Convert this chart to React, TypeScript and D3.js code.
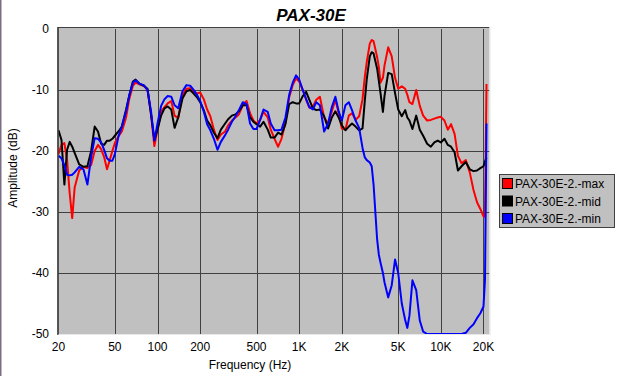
import React from "react";
import * as d3 from "d3";

const title = "PAX-30E";
const xTickValues = [20, 50, 100, 200, 500, 1000, 2000, 5000, 10000, 20000];
const xTickLabels = ["20", "50", "100", "200", "500", "1K", "2K", "5K", "10K", "20K"];
const yTickValues = [0, -10, -20, -30, -40, -50];
const seriesNames = ["PAX-30E-2.-max", "PAX-30E-2.-mid", "PAX-30E-2.-min"];
const seriesColors = ["#ff0000", "#000000", "#0000ff"];

const freqs = [
  20, 21, 22, 23, 24, 25, 26, 28, 30, 32, 34, 36, 38, 40, 42, 44, 46, 48, 50, 53, 56, 60, 63, 67, 70, 75, 80, 85, 90, 95,
  100, 106, 112, 118, 125, 132, 140, 150, 160, 170, 180, 190, 200, 212, 224, 236, 250, 265, 280, 300, 315, 335, 355, 375,
  400, 425, 450, 475, 500, 530, 560, 600, 630, 670, 710, 750, 800, 850, 900, 950, 1000, 1060, 1120, 1180, 1250, 1320,
  1400, 1500, 1600, 1700, 1800, 1900, 2000, 2120, 2240, 2360, 2500, 2650, 2800, 2900, 3000, 3150, 3250, 3350, 3550, 3650,
  3750, 3900, 4000, 4250, 4500, 4750, 5000, 5300, 5600, 5800, 6000, 6300, 6700, 7100, 7500, 8000, 8500, 9000, 9500, 10000,
  10600, 11200, 11800, 12500, 13200, 14000, 15000, 16000, 17000, 18000, 19000, 20000, 20500, 21000,
];

const maxDb = [
  -20.5, -19, -18.7, -21.5, -27, -31, -26, -23.2, -22.6, -22.8, -22.3, -20, -19, -19.7, -21, -23, -21.5, -20, -18.7, -17.6, -16.8, -14.5, -11.6, -9.3, -8.8, -9.1, -9.3, -10, -14, -19.2,
  -16.5, -13.5, -12.8, -12.2, -11.8, -14.2, -14.6, -10.8, -9.8, -9.7, -10.2, -10.6, -10.4, -11.5, -13.2, -14.3, -16.5, -18.2, -17.3, -16.8, -15.8, -15, -14.5, -14,
  -12.5, -11.8, -13.8, -15, -15.5, -14.9, -13.6, -14.5, -16.5, -18, -19.3, -18, -15.3, -11.2, -9.2, -8.1, -8.6, -10, -11.6, -12.9, -12.7, -11.6,
  -11.1, -14.5, -15.5, -13.5, -11.6, -13.8, -16.3, -16.5, -14.2, -13.8, -14.9, -14.3, -11.5, -8, -5.4, -2.4, -1.8, -2, -4.6, -6.2,
  -8.8, -8, -6, -3, -4.5, -8, -9.8, -9.4, -9.8, -10.8, -12, -12.3, -10, -12.6, -14.2, -15, -14.9, -14.7, -14.5, -14.4,
  -15, -16.5, -15.6, -17.2, -20.8, -22, -21.5, -23.5, -26.4, -28.4, -29.5, -30.7, -30.8, -9,
];

const midDb = [
  -16.6, -18.2, -25.5, -19.8, -18.5, -19.3, -20.3, -22.2, -22.6, -22.5, -20, -16, -16.8, -18.8, -19, -18.3, -18.3, -18, -17.5, -16.8, -16, -13.2, -11, -8.6, -8.3, -9, -9.3, -9.8, -14, -18.2,
  -16.5, -14.2, -13, -12.7, -13.2, -16.2, -14.5, -11.4, -10.2, -10, -10.6, -11.2, -12, -13.3, -15, -15.8, -17, -17.9, -16.5, -15.5, -14.8, -14.2, -14, -13.5,
  -12.5, -12.5, -14.5, -15.2, -15.6, -16, -15.2, -16.5, -17.8, -17.8, -17, -17.3, -15.6, -12.3, -12, -12.2, -12.2, -11, -10.3, -11.6, -13, -13.3,
  -13.2, -14.3, -16.3, -14.5, -13.5, -14.5, -15.8, -16.6, -16, -15.5, -16, -16.6, -16.3, -12, -8.2, -4.5, -3.8, -4, -6.5, -8.5,
  -10.5, -13.6, -11, -7.2, -7.4, -10.5, -13.2, -14.3, -13.3, -14.5, -15, -16.4, -14.2, -16.5, -17.5, -18.8, -19.3, -18.6, -18.3, -18.6,
  -18, -19, -19.3, -20.2, -23.2, -22.5, -21.8, -23, -23.3, -23.2, -22.8, -22.5, -21.7, -21.1,
];

const minDb = [
  -20.8, -21.2, -22.3, -23.9, -24, -23.9, -23.5, -22.6, -23, -25.5, -21, -17.9, -18, -18.6, -19.8, -21.2, -21.6, -21.6, -20.5, -17.6, -16, -13.5, -11, -8.8, -8.4, -9, -9.2, -10, -13.5, -18.3,
  -15.5, -12.6, -11.5, -11, -11.1, -12.5, -13, -10.2, -9.2, -9.3, -10, -10.8, -11.8, -13.5, -15.6, -16.6, -18, -19.8, -18.5, -17.4, -16.5, -15.2, -14.3, -13.3,
  -12, -12.3, -15.5, -16.4, -16.4, -14.9, -13.2, -13.6, -15.5, -16.6, -16.6, -16.5, -14.5, -10.8, -8.8, -7.6, -8.3, -10, -11.5, -12.8, -13.2, -12,
  -12.5, -16.8, -15.5, -12.8, -11.1, -13.5, -15, -12.5, -12, -13.3, -15, -16.2, -19.5, -21, -21.5, -21.9, -22.5, -25.5, -34.5, -37,
  -38.3, -40, -41.5, -44, -42, -37.8, -40, -45, -47.7, -49, -47, -41.2, -42.8, -47.8, -49.6, -50, -50, -50, -50, -50,
  -50, -50, -50, -50, -50, -50, -49.8, -49, -48.4, -47.4, -46.6, -45.5, -41, -15.5,
];

const series = [maxDb, midDb, minDb];

const W = 621;
const H = 376;
const plotLeft = 58.5;
const plotRight = 489.5;
const plotTop = 29;
const plotBottom = 334;

export default function App() {
  const x = d3.scaleLog().domain([20, 22050]).range([plotLeft, plotRight]);
  const y = d3.scaleLinear().domain([-50, 0]).range([plotBottom, plotTop]);
  const line = d3
    .line<[number, number]>()
    .x((d) => x(d[0]))
    .y((d) => y(d[1]));
  const font = "Arial, 'Liberation Sans', sans-serif";

  return (
    <svg
      width={W}
      height={H}
      style={{ position: "absolute", left: 0, top: 0, background: "#ffffff" }}
      fontFamily={font}
    >
      <rect x={0} y={0} width={W} height={H} fill="#ffffff" />
      <line x1={0.75} y1={0} x2={0.75} y2={H} stroke="#7a6f86" strokeWidth={1.5} />
      <defs>
        <clipPath id="plotClip">
          <rect x={plotLeft} y={plotTop - 2} width={plotRight - plotLeft} height={plotBottom - plotTop + 2} />
        </clipPath>
      </defs>
      <text x={311} y={21} textAnchor="middle" fontSize={17} fontWeight="bold" fontStyle="italic" fill="#000">
        {title}
      </text>
      <rect x={plotLeft} y={plotTop - 1} width={plotRight - plotLeft} height={plotBottom - plotTop + 1} fill="#c0c0c0" />
      {xTickValues.slice(1).map((v) => (
        <line key={"vx" + v} x1={Math.round(x(v)) + 0.5} x2={Math.round(x(v)) + 0.5} y1={plotTop} y2={plotBottom} stroke="#404040" strokeWidth={1} />
      ))}
      {yTickValues.slice(1, -1).map((v) => (
        <line key={"hy" + v} x1={plotLeft} x2={plotRight} y1={Math.round(y(v)) + 0.5} y2={Math.round(y(v)) + 0.5} stroke="#404040" strokeWidth={1} />
      ))}
      <g clipPath="url(#plotClip)">
        {series.map((s, i) => (
          <path
            key={seriesNames[i]}
            d={line(freqs.map((f, j) => [f, s[j]] as [number, number])) || ""}
            fill="none"
            stroke={seriesColors[i]}
            strokeWidth={2}
            strokeLinejoin="round"
          />
        ))}
      </g>
      {/* sunken border */}
      <line x1={plotLeft} x2={plotRight} y1={plotTop - 1.5} y2={plotTop - 1.5} stroke="#404040" strokeWidth={1} />
      <line x1={plotLeft - 0.5} x2={plotLeft - 0.5} y1={plotTop - 2} y2={plotBottom + 1} stroke="#202020" strokeWidth={1.5} />
      <line x1={plotRight + 0.5} x2={plotRight + 0.5} y1={plotTop - 2} y2={plotBottom + 1} stroke="#e8e8e8" strokeWidth={1} />
      <line x1={plotLeft} x2={plotRight + 1} y1={plotBottom + 0.5} y2={plotBottom + 0.5} stroke="#e8e8e8" strokeWidth={1} />
      {xTickValues.map((v, i) => (
        <text key={"xt" + v} x={x(v)} y={351} textAnchor="middle" fontSize={12} fill="#000">
          {xTickLabels[i]}
        </text>
      ))}
      {yTickValues.map((v) => (
        <text key={"yt" + v} x={49} y={y(v) + 4} textAnchor="end" fontSize={12} fill="#000">
          {v}
        </text>
      ))}
      <text x={250} y={369} textAnchor="middle" fontSize={12} fill="#000">
        Frequency (Hz)
      </text>
      <text transform="translate(17,168) rotate(-90)" textAnchor="middle" fontSize={12} fill="#000">
        Amplitude (dB)
      </text>
      <g>
        <rect x={499.5} y={174.5} width={115} height={53} fill="#c0c0c0" stroke="#404040" strokeWidth={1} />
        {seriesNames.map((n, i) => (
          <g key={"lg" + n}>
            <rect x={502.5} y={178.5 + i * 17.5} width={10} height={10} fill={seriesColors[i]} stroke="#000" strokeWidth={1} />
            <text x={515} y={188 + i * 17.5} fontSize={12} fill="#000">
              {n}
            </text>
          </g>
        ))}
      </g>
    </svg>
  );
}
